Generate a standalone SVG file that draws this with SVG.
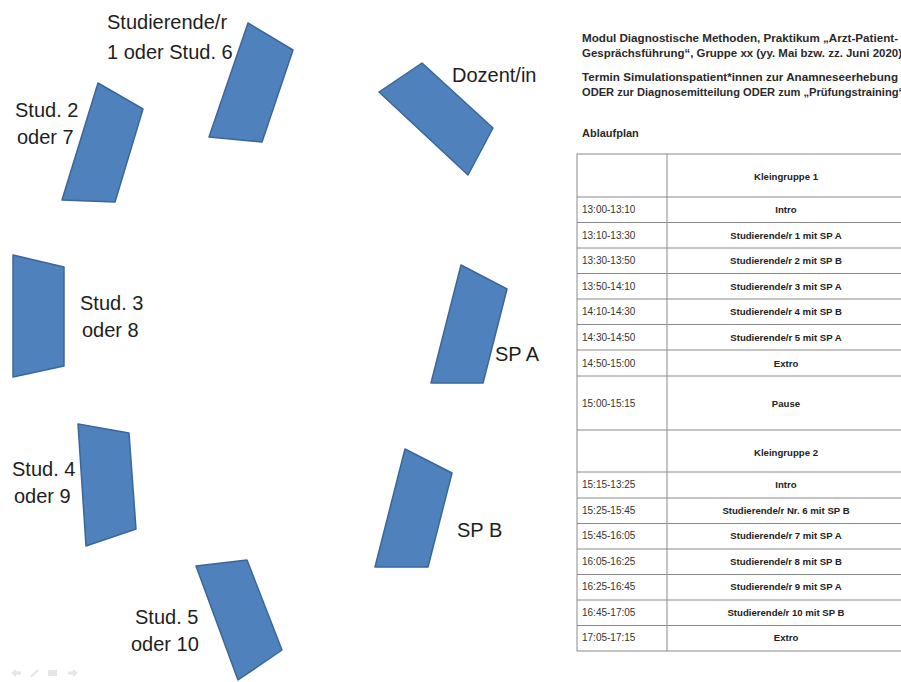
<svg xmlns="http://www.w3.org/2000/svg" width="901" height="682" viewBox="0 0 901 682">
<style>
.seat{fill:#4f81bd;stroke:#3b6699;stroke-width:1.5;stroke-linejoin:round}
.lbl{font-family:"Liberation Sans",Arial,sans-serif;font-size:20px;fill:#1e1e1e}
.hd{font-family:"Liberation Sans",Arial,sans-serif;font-size:11px;font-weight:bold;fill:#2a2a2a}
.tm{font-family:"Liberation Sans",Arial,sans-serif;font-size:10px;fill:#333}
.ev{font-family:"Liberation Sans",Arial,sans-serif;font-size:9.6px;font-weight:bold;fill:#222;text-anchor:middle}
.grid{stroke:#8a8a8a;stroke-width:1;fill:none}
.ico{fill:#e6e6e6;stroke:none}
</style>
<rect width="901" height="682" fill="#fff"/>

<g id="stud1">
<polygon class="seat" points="248,23 293,50 262,142 209,137"/>
<text class="lbl" x="107" y="29">Studierende/r</text>
<text class="lbl" x="107" y="59">1 oder Stud. 6</text>
</g>
<g id="stud2">
<polygon class="seat" points="98,83 143,109 115,202 62,200"/>
<text class="lbl" x="15" y="117">Stud. 2</text>
<text class="lbl" x="17" y="144">oder 7</text>
</g>
<g id="stud3">
<polygon class="seat" points="13,255 64,267 64,366 13,377"/>
<text class="lbl" x="80" y="310">Stud. 3</text>
<text class="lbl" x="82" y="337">oder 8</text>
</g>
<g id="stud4">
<polygon class="seat" points="78,424 129,433 136,529 86,546"/>
<text class="lbl" x="12" y="476">Stud. 4</text>
<text class="lbl" x="14" y="503">oder 9</text>
</g>
<g id="stud5">
<polygon class="seat" points="196,566 247,560 282,650 238,680"/>
<text class="lbl" x="135" y="624">Stud. 5</text>
<text class="lbl" x="131" y="651">oder 10</text>
</g>
<g id="dozent">
<polygon class="seat" points="422,63 493,128 468,175 379,92"/>
<text class="lbl" x="452" y="82">Dozent/in</text>
</g>
<g id="spa">
<polygon class="seat" points="461,265 507,289 483,383 431,383"/>
<text class="lbl" x="495" y="361">SP A</text>
</g>
<g id="spb">
<polygon class="seat" points="405,449 452,473 428,567 375,567"/>
<text class="lbl" x="457" y="537">SP B</text>
</g>

<g id="connectors"></g>

<g id="controls">
<path class="ico" d="M11,673 l5,-4 v2.5 h5 v3 h-5 v2.5 z"/>
<path d="M31,677 l7,-7" stroke="#e6e6e6" stroke-width="2"/>
<rect class="ico" x="48" y="670" width="9" height="6"/>
<path class="ico" d="M78,673 l-5,-4 v2.5 h-5 v3 h5 v2.5 z"/>
</g>

<g id="header">
<text class="hd" x="582" y="42" textLength="316" lengthAdjust="spacingAndGlyphs">Modul Diagnostische Methoden, Praktikum „Arzt-Patient-</text>
<text class="hd" x="582" y="57" textLength="320" lengthAdjust="spacingAndGlyphs">Gesprächsführung“, Gruppe xx (yy. Mai bzw. zz. Juni 2020)</text>
<text class="hd" x="582" y="81" textLength="316" lengthAdjust="spacingAndGlyphs">Termin Simulationspatient*innen zur Anamneseerhebung</text>
<text class="hd" x="582" y="96" textLength="322" lengthAdjust="spacingAndGlyphs">ODER zur Diagnosemitteilung ODER zum „Prüfungstraining“</text>
<text class="hd" x="582" y="137">Ablaufplan</text>
</g>

<g id="table">
<rect class="grid" x="577" y="154" width="340" height="497" stroke="#666"/>
<line class="grid" x1="667" y1="154" x2="667" y2="651" stroke="#666"/>
<g class="grid">
<line x1="577" y1="197" x2="901" y2="197"/>
<line x1="577" y1="222.5" x2="901" y2="222.5"/>
<line x1="577" y1="248" x2="901" y2="248"/>
<line x1="577" y1="273.5" x2="901" y2="273.5"/>
<line x1="577" y1="299" x2="901" y2="299"/>
<line x1="577" y1="324.5" x2="901" y2="324.5"/>
<line x1="577" y1="350" x2="901" y2="350"/>
<line x1="577" y1="376" x2="901" y2="376"/>
<line x1="577" y1="430" x2="901" y2="430"/>
<line x1="577" y1="472" x2="901" y2="472"/>
<line x1="577" y1="498" x2="901" y2="498"/>
<line x1="577" y1="523.5" x2="901" y2="523.5"/>
<line x1="577" y1="549" x2="901" y2="549"/>
<line x1="577" y1="574.5" x2="901" y2="574.5"/>
<line x1="577" y1="600" x2="901" y2="600"/>
<line x1="577" y1="625.5" x2="901" y2="625.5"/>
</g>
<text class="ev" x="786" y="180">Kleingruppe 1</text>
<text class="tm" x="582" y="213">13:00-13:10</text><text class="ev" x="786" y="213">Intro</text>
<text class="tm" x="582" y="239">13:10-13:30</text><text class="ev" x="786" y="239">Studierende/r 1 mit SP A</text>
<text class="tm" x="582" y="264">13:30-13:50</text><text class="ev" x="786" y="264">Studierende/r 2 mit SP B</text>
<text class="tm" x="582" y="290">13:50-14:10</text><text class="ev" x="786" y="290">Studierende/r 3 mit SP A</text>
<text class="tm" x="582" y="315">14:10-14:30</text><text class="ev" x="786" y="315">Studierende/r 4 mit SP B</text>
<text class="tm" x="582" y="341">14:30-14:50</text><text class="ev" x="786" y="341">Studierende/r 5 mit SP A</text>
<text class="tm" x="582" y="367">14:50-15:00</text><text class="ev" x="786" y="367">Extro</text>
<text class="tm" x="582" y="407">15:00-15:15</text><text class="ev" x="786" y="407">Pause</text>
<text class="ev" x="786" y="456">Kleingruppe 2</text>
<text class="tm" x="582" y="488">15:15-13:25</text><text class="ev" x="786" y="488">Intro</text>
<text class="tm" x="582" y="514">15:25-15:45</text><text class="ev" x="786" y="514">Studierende/r Nr. 6 mit SP B</text>
<text class="tm" x="582" y="539">15:45-16:05</text><text class="ev" x="786" y="539">Studierende/r 7 mit SP A</text>
<text class="tm" x="582" y="565">16:05-16:25</text><text class="ev" x="786" y="565">Studierende/r 8 mit SP B</text>
<text class="tm" x="582" y="590">16:25-16:45</text><text class="ev" x="786" y="590">Studierende/r 9 mit SP A</text>
<text class="tm" x="582" y="616">16:45-17:05</text><text class="ev" x="786" y="616">Studierende/r 10 mit SP B</text>
<text class="tm" x="582" y="641">17:05-17:15</text><text class="ev" x="786" y="641">Extro</text>
</g>
</svg>
